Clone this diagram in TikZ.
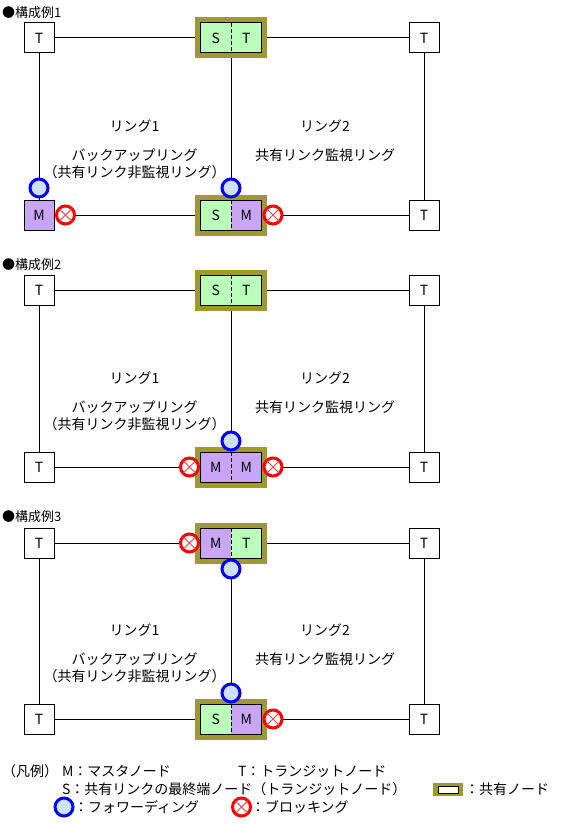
\documentclass[tikz,border=0pt]{standalone}
\usepackage{fontspec}
\setmainfont{Noto Sans CJK JP}
\definecolor{olivec}{RGB}{158,154,48}
\definecolor{greenc}{RGB}{185,255,185}
\definecolor{purplec}{RGB}{200,165,245}
\definecolor{lblue}{RGB}{205,226,250}
\tikzset{
  every node/.style={outer sep=0pt, inner sep=0pt},
  txt/.style={font=\fontsize{14}{16}\selectfont},
  ttl/.style={font=\fontsize{13}{15}\selectfont, anchor=west},
  lbl/.style={font=\fontsize{14}{16}\selectfont, anchor=west},
  tbox/.style={draw, fill=white, line width=1pt, minimum width=30pt, minimum height=30pt, font=\fontsize{14}{16}\selectfont},
  mbox/.style={tbox, fill=purplec},
  frame/.style={fill=olivec, minimum width=72pt, minimum height=41pt},
  half/.style={minimum width=30.5pt, minimum height=30pt, font=\fontsize{14}{16}\selectfont},
  sfill/.style={fill=greenc},
  mfill/.style={fill=purplec},
  fwdc/.style={circle, draw=blue, fill=lblue, line width=3pt, minimum size=18pt},
  blkc/.style={circle, draw=red, fill=white, line width=3pt, minimum size=18pt},
  link/.style={line width=1pt, black},
}
\newcommand{\sharednode}[6]{%
  \node[frame] (#1) at (#2) {};
  \node[half, #3, anchor=east] (#1l) at (#1.center) {#4};
  \node[half, #5, anchor=west] (#1r) at (#1.center) {#6};
  \draw[line width=1pt] (#1l.north west) rectangle (#1r.south east);
  \draw[line width=1pt, dash pattern=on 4pt off 2pt] (#1l.north east) -- (#1l.south east);
}
\newcommand{\fwdnode}[2]{\node[fwdc] (#1) at (#2) {};}
\newcommand{\blknode}[2]{%
  \node[blkc] (#1) at (#2) {};
  \draw[red!75, line width=0.8pt] (#1.north west) -- (#1.south east) (#1.north east) -- (#1.south west);
}
\begin{document}
\begin{tikzpicture}[x=1pt, y=-1pt]
\useasboundingbox[fill=white] (0,0) rectangle (588,824);

% ---------------- Configuration 1 ----------------
\node[ttl] (title1) at (2,13) {●構成例1};
\node[tbox] (t1a) at (39,38) {T};
\node[tbox] (t1b) at (424,38) {T};
\node[mbox] (m1) at (39,215) {M};
\node[tbox] (t1d) at (424,215) {T};
\sharednode{sA1}{231,38}{sfill}{S}{sfill}{T}
\sharednode{sB1}{231,215}{sfill}{S}{mfill}{M}
\draw[link] (t1a) -- (sA1);
\draw[link] (sA1) -- (t1b);
\draw[link] (t1a) -- (m1);
\draw[link] (t1b) -- (t1d);
\draw[link] (sA1) -- (sB1);
\draw[link] (m1) -- (sB1);
\draw[link] (sB1) -- (t1d);
\fwdnode{f1a}{39,188}
\fwdnode{f1b}{231,188}
\blknode{b1a}{65.5,215}
\blknode{b1b}{273,215}
\node[txt] (r1a) at (134.5,126) {リング1};
\node[txt] (r1b) at (134.5,155) {バックアップリング};
\node[txt] (r1c) at (134.5,172) {（共有リンク非監視リング）};
\node[txt] (r1d) at (325,126) {リング2};
\node[txt] (r1e) at (325,155) {共有リンク監視リング};

% ---------------- Configuration 2 ----------------
\node[ttl] (title2) at (2,265) {●構成例2};
\node[tbox] (t2a) at (39,290) {T};
\node[tbox] (t2b) at (424,290) {T};
\node[tbox] (t2c) at (39,467) {T};
\node[tbox] (t2d) at (424,467) {T};
\sharednode{sA2}{231,290}{sfill}{S}{sfill}{T}
\sharednode{sB2}{231,467}{mfill}{M}{mfill}{M}
\draw[link] (t2a) -- (sA2);
\draw[link] (sA2) -- (t2b);
\draw[link] (t2a) -- (t2c);
\draw[link] (t2b) -- (t2d);
\draw[link] (sA2) -- (sB2);
\draw[link] (t2c) -- (sB2);
\draw[link] (sB2) -- (t2d);
\fwdnode{f2a}{231,441}
\blknode{b2a}{189.5,467}
\blknode{b2b}{273,467}
\node[txt] (r2a) at (134.5,378) {リング1};
\node[txt] (r2b) at (134.5,407) {バックアップリング};
\node[txt] (r2c) at (134.5,424) {（共有リンク非監視リング）};
\node[txt] (r2d) at (325,378) {リング2};
\node[txt] (r2e) at (325,407) {共有リンク監視リング};

% ---------------- Configuration 3 ----------------
\node[ttl] (title3) at (2,517) {●構成例3};
\node[tbox] (t3a) at (39,543) {T};
\node[tbox] (t3b) at (424,543) {T};
\node[tbox] (t3c) at (39,719) {T};
\node[tbox] (t3d) at (424,719) {T};
\sharednode{sA3}{231,543}{mfill}{M}{sfill}{T}
\sharednode{sB3}{231,719}{sfill}{S}{mfill}{M}
\draw[link] (t3a) -- (sA3);
\draw[link] (sA3) -- (t3b);
\draw[link] (t3a) -- (t3c);
\draw[link] (t3b) -- (t3d);
\draw[link] (sA3) -- (sB3);
\draw[link] (t3c) -- (sB3);
\draw[link] (sB3) -- (t3d);
\blknode{b3a}{189.5,543}
\fwdnode{f3a}{231,569}
\fwdnode{f3b}{231,693}
\blknode{b3b}{273,719}
\node[txt] (r3a) at (134.5,630) {リング1};
\node[txt] (r3b) at (134.5,659) {バックアップリング};
\node[txt] (r3c) at (134.5,676) {（共有リンク非監視リング）};
\node[txt] (r3d) at (325,630) {リング2};
\node[txt] (r3e) at (325,659) {共有リンク監視リング};

% ---------------- Legend ----------------
\node[lbl] (lg1) at (2,771) {（凡例）};
\node[lbl] (lg2) at (62,771) {M：マスタノード};
\node[lbl] (lg3) at (238,771) {T：トランジットノード};
\node[lbl] (lg4) at (62,789) {S：共有リンクの最終端ノード（トランジットノード）};
\node[fill=olivec, minimum width=30pt, minimum height=13pt] (lgbox) at (448,789.5) {};
\node[draw, fill=white, line width=1pt, minimum width=20pt, minimum height=7pt] (lgin) at (lgbox.center) {};
\node[lbl] (lg5) at (465,789) {：共有ノード};
\fwdnode{lgf}{64,807}
\node[lbl] (lg6) at (74,807) {：フォワーディング};
\blknode{lgb}{241.5,807}
\node[lbl] (lg7) at (251,807) {：ブロッキング};
\end{tikzpicture}
\end{document}
